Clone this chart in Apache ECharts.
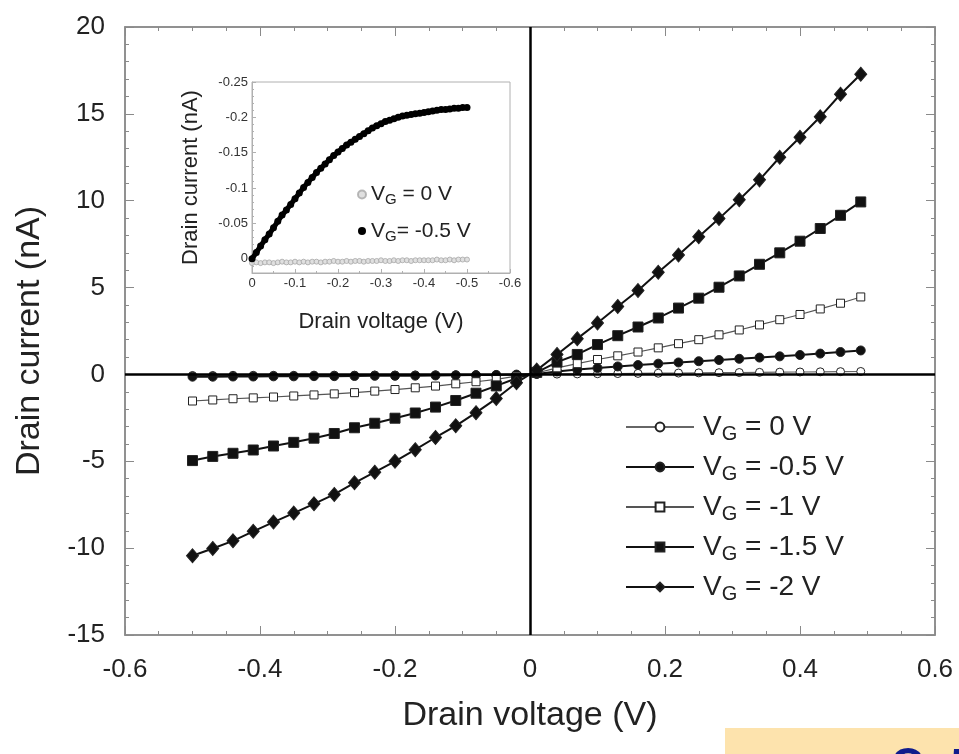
<!DOCTYPE html>
<html>
<head>
<meta charset="utf-8">
<title>Drain current vs drain voltage</title>
<script src="https://cdn.jsdelivr.net/npm/echarts@6/dist/echarts.min.js"></script>
<style>
    html, body { margin: 0; padding: 0; background: #fff; }
    #chart { width: 959px; height: 754px; }
</style>
</head>
<body>
<div id="chart"></div>
<script>
// main plot: drain voltage (V)
const drainVoltage = [-0.50, -0.47, -0.44, -0.41, -0.38, -0.35, -0.32, -0.29, -0.26, -0.23, -0.20, -0.17,
    -0.14, -0.11, -0.08, -0.05, -0.02, 0.01, 0.04, 0.07, 0.10, 0.13, 0.16, 0.19, 0.22, 0.25, 0.28, 0.31,
    0.34, 0.37, 0.40, 0.43, 0.46, 0.49];

// drain current (nA) for each gate voltage
const currentVg0 = [-0.06, -0.06, -0.05, -0.05, -0.05, -0.05, -0.04, -0.04, -0.04, -0.03, -0.03, -0.03,
    -0.02, -0.02, -0.02, -0.01, -0.01, 0.00, 0.02, 0.03, 0.04, 0.05, 0.06, 0.07, 0.08, 0.09, 0.10, 0.11,
    0.12, 0.13, 0.14, 0.15, 0.16, 0.17];
const currentVg05 = [-0.13, -0.13, -0.12, -0.12, -0.11, -0.11, -0.10, -0.10, -0.09, -0.08, -0.08, -0.07,
    -0.06, -0.05, -0.04, -0.03, -0.01, 0.03, 0.17, 0.28, 0.37, 0.46, 0.54, 0.62, 0.69, 0.76, 0.83, 0.90,
    0.97, 1.04, 1.12, 1.20, 1.29, 1.38];
const currentVg1 = [-1.53, -1.47, -1.40, -1.35, -1.30, -1.24, -1.18, -1.12, -1.05, -0.96, -0.87, -0.77,
    -0.67, -0.54, -0.42, -0.29, -0.10, 0.08, 0.38, 0.62, 0.86, 1.07, 1.29, 1.53, 1.77, 2.00, 2.28, 2.56,
    2.85, 3.15, 3.45, 3.77, 4.10, 4.46];
const currentVg15 = [-4.96, -4.72, -4.54, -4.35, -4.12, -3.91, -3.67, -3.40, -3.07, -2.81, -2.52, -2.22,
    -1.88, -1.50, -1.08, -0.66, -0.22, 0.12, 0.71, 1.15, 1.72, 2.23, 2.73, 3.25, 3.82, 4.39, 5.02, 5.67,
    6.34, 7.00, 7.67, 8.40, 9.16, 9.93];
const currentVg2 = [-10.44, -10.02, -9.58, -9.03, -8.50, -7.98, -7.45, -6.91, -6.24, -5.63, -5.00, -4.33,
    -3.63, -2.96, -2.20, -1.39, -0.48, 0.25, 1.15, 2.06, 2.96, 3.91, 4.83, 5.88, 6.87, 7.92, 8.97, 10.06,
    11.20, 12.50, 13.65, 14.83, 16.13, 17.28];

// inset: drain voltage (V) and current (nA)
const insetVoltage = [0, -0.01, -0.02, -0.03, -0.04, -0.05, -0.06, -0.07, -0.08, -0.09, -0.10,
    -0.11, -0.12, -0.13, -0.14, -0.15, -0.16, -0.17, -0.18, -0.19, -0.20,
    -0.21, -0.22, -0.23, -0.24, -0.25, -0.26, -0.27, -0.28, -0.29, -0.30,
    -0.31, -0.32, -0.33, -0.34, -0.35, -0.36, -0.37, -0.38, -0.39, -0.40,
    -0.41, -0.42, -0.43, -0.44, -0.45, -0.46, -0.47, -0.48, -0.49, -0.50];
const insetVg05 = [0.000, -0.009, -0.018, -0.027, -0.035, -0.044, -0.053, -0.062, -0.069, -0.077, -0.085,
    -0.093, -0.101, -0.108, -0.115, -0.122, -0.128, -0.134, -0.140, -0.146, -0.151,
    -0.156, -0.161, -0.165, -0.169, -0.173, -0.177, -0.181, -0.185, -0.188, -0.191,
    -0.194, -0.196, -0.198, -0.200, -0.202, -0.203, -0.204, -0.205, -0.206, -0.207,
    -0.208, -0.209, -0.210, -0.211, -0.211, -0.212, -0.213, -0.213, -0.214, -0.214];
const insetVg0 = [0.006, 0.005, 0.006, 0.005, 0.005, 0.006, 0.005, 0.004, 0.005, 0.005, 0.004,
    0.005, 0.004, 0.005, 0.004, 0.004, 0.005, 0.004, 0.004, 0.003, 0.004,
    0.004, 0.003, 0.004, 0.003, 0.003, 0.004, 0.003, 0.003, 0.003, 0.002,
    0.003, 0.003, 0.002, 0.003, 0.002, 0.002, 0.003, 0.002, 0.002, 0.002,
    0.002, 0.002, 0.001, 0.002, 0.002, 0.001, 0.002, 0.001, 0.001, 0.001];

const mainTicksX = [-0.6, 0.6, 0.2];
const mainTicksY = [-15, 20, 5];

const FONT = 'Liberation Sans, Arial, sans-serif';
const FRAME = '#8a8a8a';

const legendNames = {
    'g0': '{v|V}{s|G}{v| = 0 V}',
    'g05': '{v|V}{s|G}{v| = -0.5 V}',
    'g1': '{v|V}{s|G}{v| = -1 V}',
    'g15': '{v|V}{s|G}{v| = -1.5 V}',
    'g2': '{v|V}{s|G}{v| = -2 V}',
    'i0': '{v|V}{s|G}{v| = 0 V}',
    'i05': '{v|V}{s|G}{v|= -0.5 V}'
};

function pairs(xs, ys) {
    return xs.map((x, i) => [x, ys[i]]);
}

function frameAxis(extra) {
    return Object.assign({
        type: 'value',
        gridIndex: 0,
        axisLine: {show: true, onZero: false, lineStyle: {color: FRAME, width: 1.5}},
        axisTick: {show: true, inside: true, length: 9, lineStyle: {color: FRAME}},
        minorTick: {show: true, length: 4, lineStyle: {color: FRAME}},
        axisLabel: {show: false},
        splitLine: {show: false}
    }, extra);
}

function mainSeries(name, ys, symbol, size, filled, lineColor, lineWidth) {
    return {
        name: name,
        type: 'line',
        xAxisIndex: 0,
        yAxisIndex: 0,
        data: pairs(drainVoltage, ys),
        symbol: symbol,
        symbolSize: size,
        showSymbol: true,
        lineStyle: {color: lineColor, width: lineWidth},
        itemStyle: {
            color: filled ? '#111' : '#fff',
            borderColor: '#222',
            borderWidth: 1
        },
        emphasis: {disabled: true}
    };
}

const chart = echarts.init(document.getElementById('chart'));

const richMain = {
    v: {fontSize: 28, fontFamily: FONT, color: '#222', lineHeight: 34},
    s: {fontSize: 20, fontFamily: FONT, color: '#222', lineHeight: 20, verticalAlign: 'bottom'}
};
const richInset = {
    v: {fontSize: 21, fontFamily: FONT, color: '#222', lineHeight: 26},
    s: {fontSize: 15, fontFamily: FONT, color: '#222', lineHeight: 15, verticalAlign: 'bottom'}
};

const zeroLines = {
    silent: true,
    symbol: 'none',
    label: {show: false},
    lineStyle: {color: '#000', width: 2.5, type: 'solid'},
    data: [{xAxis: 0}, {yAxis: 0}]
};

const s0 = mainSeries('g0', currentVg0, 'circle', 8, false, '#666', 1.2);
const s05 = mainSeries('g05', currentVg05, 'circle', 9, true, '#111', 2);
const s1 = mainSeries('g1', currentVg1, 'rect', 8, false, '#555', 1.2);
const s15 = mainSeries('g15', currentVg15, 'rect', 10, true, '#111', 2);
const s2 = mainSeries('g2', currentVg2, 'diamond', [12, 14], true, '#111', 2);
s2.markLine = zeroLines;

chart.setOption({
    animation: false,
    backgroundColor: '#fff',
    grid: [
        {left: 125, right: 24, top: 27, bottom: 119, show: true, borderColor: FRAME, borderWidth: 1.5},
        {left: 252, right: 449, top: 82, bottom: 481, show: true, borderColor: '#b0b0b0', borderWidth: 1,
            backgroundColor: '#fff'}
    ],
    xAxis: [
        frameAxis({
            min: mainTicksX[0], max: mainTicksX[1], interval: mainTicksX[2],
            minorTick: {show: true, splitNumber: 4, length: 4, lineStyle: {color: FRAME}},
            axisLabel: {show: true, fontSize: 26, fontFamily: FONT, color: '#222', margin: 22},
            name: 'Drain voltage (V)',
            nameLocation: 'middle',
            nameGap: 64,
            nameTextStyle: {fontSize: 34, fontFamily: FONT, color: '#222'}
        }),
        frameAxis({
            position: 'top',
            min: mainTicksX[0], max: mainTicksX[1], interval: mainTicksX[2],
            minorTick: {show: true, splitNumber: 4, length: 4, lineStyle: {color: FRAME}}
        }),
        {
            type: 'value',
            gridIndex: 1,
            min: -0.6, max: 0, interval: 0.1,
            inverse: true,
            axisLine: {show: true, onZero: false, lineStyle: {color: '#b0b0b0'}},
            axisTick: {show: true, inside: true, length: 4, lineStyle: {color: '#b0b0b0'}},
            minorTick: {show: true, splitNumber: 2, length: 2, lineStyle: {color: '#b0b0b0'}},
            splitLine: {show: false},
            axisLabel: {fontSize: 13, fontFamily: FONT, color: '#333', margin: 4},
            name: 'Drain voltage (V)',
            nameLocation: 'middle',
            nameGap: 38,
            nameTextStyle: {fontSize: 22, fontFamily: FONT, color: '#222'}
        }
    ],
    yAxis: [
        frameAxis({
            min: mainTicksY[0], max: mainTicksY[1], interval: mainTicksY[2],
            minorTick: {show: true, splitNumber: 5, length: 4, lineStyle: {color: FRAME}},
            axisLabel: {show: true, fontSize: 26, fontFamily: FONT, color: '#222', margin: 20},
            name: 'Drain current (nA)',
            nameLocation: 'middle',
            nameRotate: 90,
            nameGap: 78,
            nameTextStyle: {fontSize: 34, fontFamily: FONT, color: '#222', padding: [0, 20, 0, 0]}
        }),
        frameAxis({
            position: 'right',
            min: mainTicksY[0], max: mainTicksY[1], interval: mainTicksY[2],
            minorTick: {show: true, splitNumber: 5, length: 4, lineStyle: {color: FRAME}}
        }),
        {
            type: 'value',
            gridIndex: 1,
            min: -0.25, max: 0.02, interval: 0.05,
            inverse: true,
            axisLine: {show: true, onZero: false, lineStyle: {color: '#b0b0b0'}},
            axisTick: {show: true, inside: true, length: 4, lineStyle: {color: '#b0b0b0'}},
            minorTick: {show: true, splitNumber: 5, length: 2, lineStyle: {color: '#b0b0b0'}},
            splitLine: {show: false},
            axisLabel: {fontSize: 13, fontFamily: FONT, color: '#333', margin: 4, showMaxLabel: false,
                formatter: v => String(Math.round(v * 100) / 100)},
            name: 'Drain current (nA)',
            nameLocation: 'middle',
            nameRotate: 90,
            nameGap: 50,
            nameTextStyle: {fontSize: 22, fontFamily: FONT, color: '#222'}
        }
    ],
    legend: [
        {
            data: ['g0', 'g05', 'g1', 'g15', 'g2'],
            orient: 'vertical',
            left: 620,
            top: 405,
            itemWidth: 68,
            itemHeight: 11,
            itemGap: 6,
            selectedMode: false,
            formatter: name => legendNames[name],
            textStyle: {rich: richMain, padding: [0, 0, 0, 4], lineHeight: 34}
        },
        {
            data: ['i0', 'i05'],
            orient: 'vertical',
            left: 352,
            top: 179,
            icon: 'circle',
            itemWidth: 8,
            itemHeight: 8,
            itemGap: 13,
            selectedMode: false,
            formatter: name => legendNames[name],
            textStyle: {rich: richInset}
        }
    ],
    series: [
        s0, s05, s1, s15, s2,
        {
            name: 'i0',
            type: 'scatter',
            xAxisIndex: 2,
            yAxisIndex: 2,
            data: pairs(insetVoltage, insetVg0),
            symbol: 'circle',
            symbolSize: 5,
            itemStyle: {color: '#d8d8d8', borderColor: '#a8a8a8', borderWidth: 1},
            emphasis: {disabled: true}
        },
        {
            name: 'i05',
            type: 'line',
            xAxisIndex: 2,
            yAxisIndex: 2,
            data: pairs(insetVoltage, insetVg05),
            symbol: 'circle',
            symbolSize: 7,
            lineStyle: {color: '#000', width: 5},
            itemStyle: {color: '#000'},
            emphasis: {disabled: true}
        }
    ],
    graphic: [
        {
            type: 'rect',
            left: 725,
            top: 728,
            shape: {width: 234, height: 26},
            style: {fill: '#fde3ad'},
            silent: true
        },
        {
            type: 'text',
            left: 888,
            top: 743,
            style: {text: '0.5', fontSize: 72, fontFamily: FONT, fill: '#101c8c'},
            silent: true
        }
    ]
});
</script>
</body>
</html>
